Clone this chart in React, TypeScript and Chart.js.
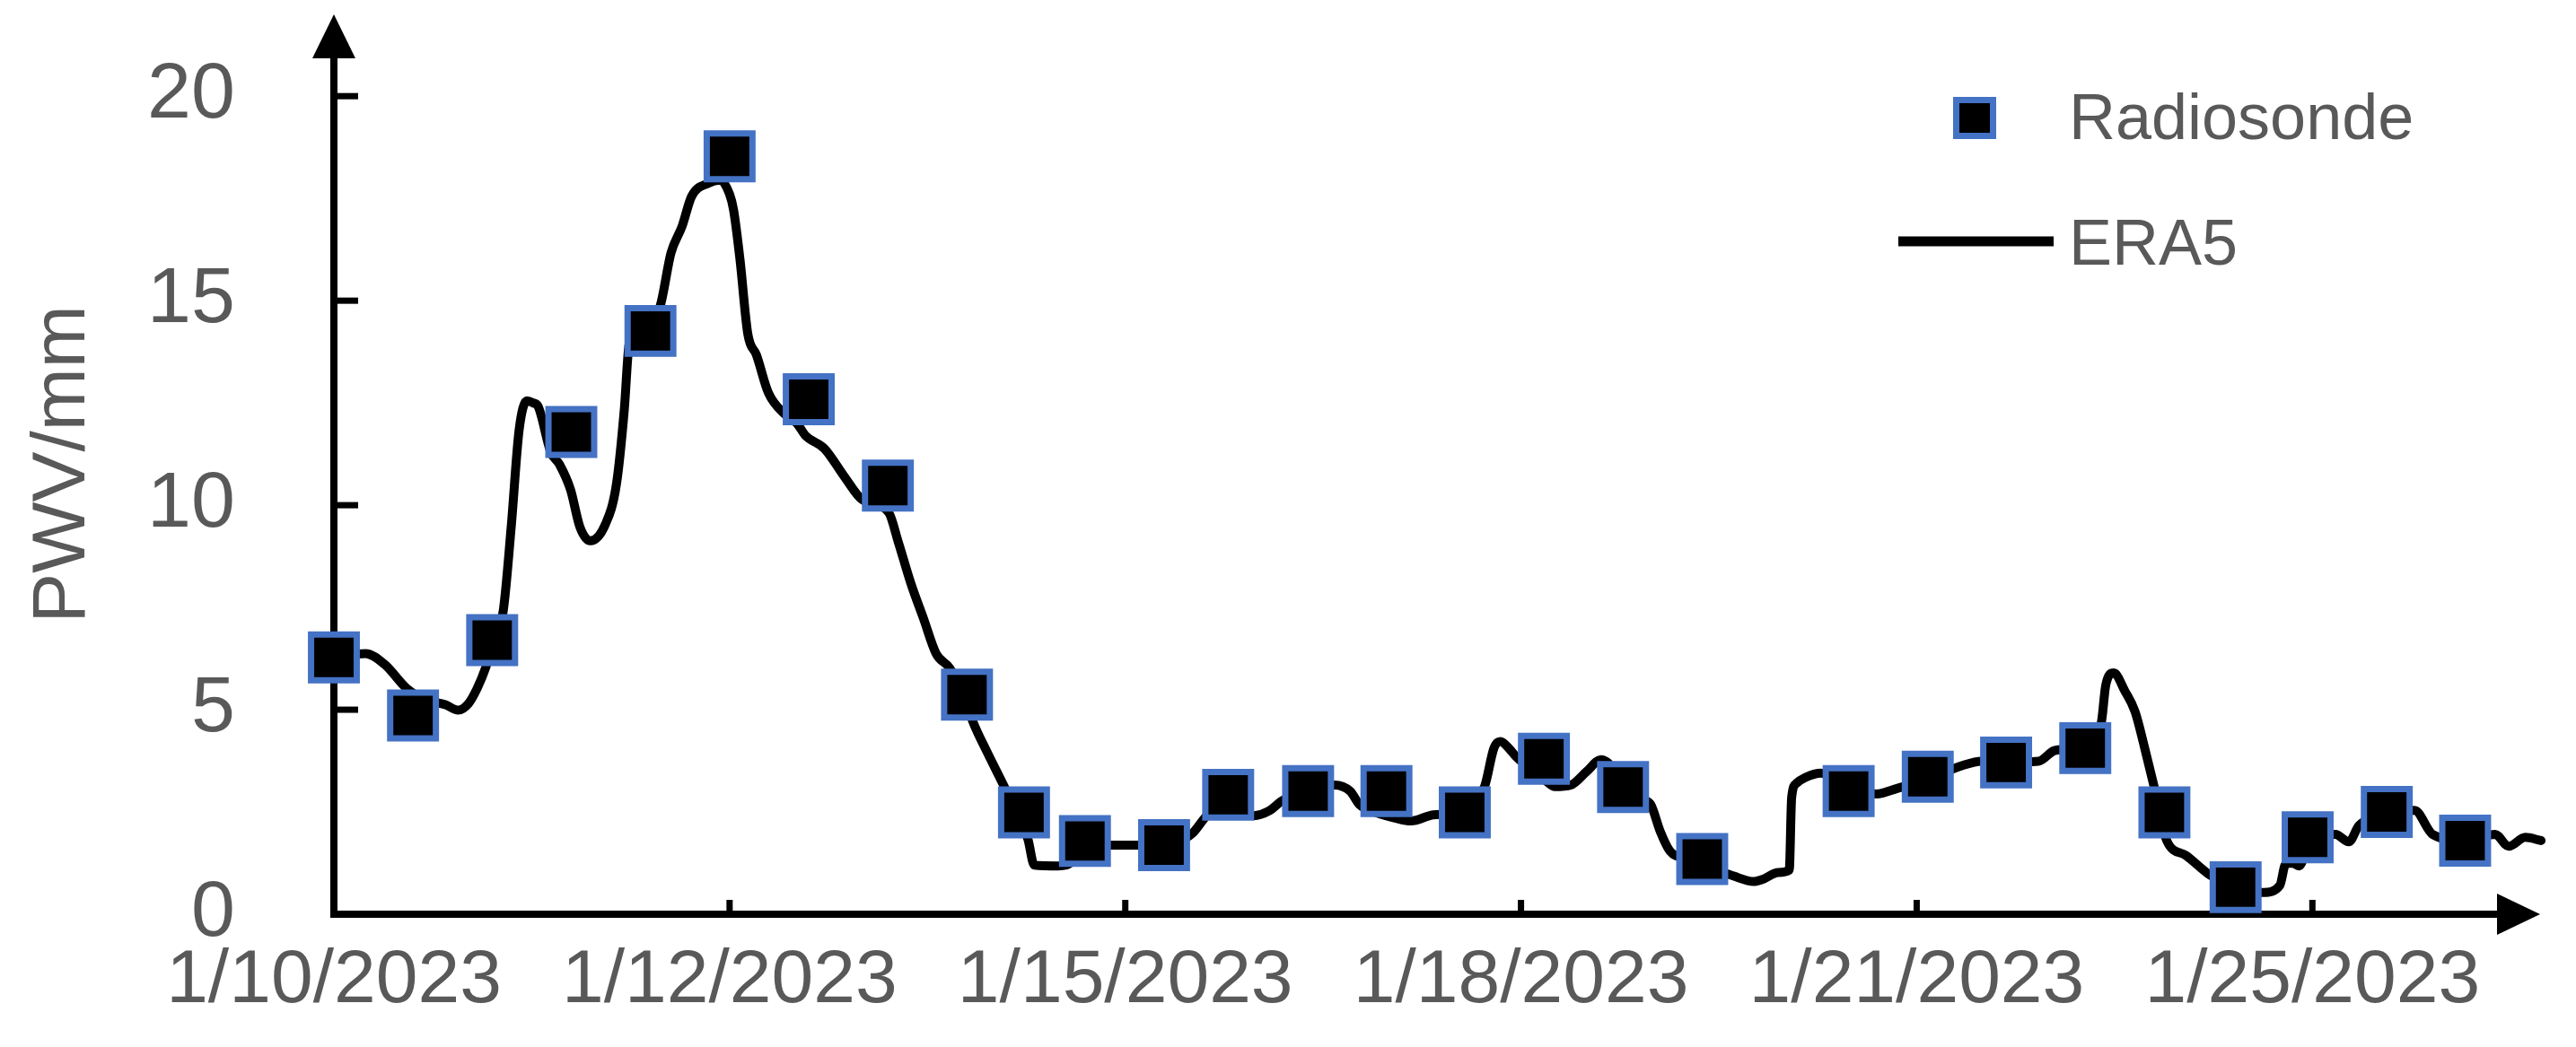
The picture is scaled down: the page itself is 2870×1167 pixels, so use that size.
import React, { useEffect, useRef } from 'react';
import { Chart, registerables } from 'chart.js';

Chart.register(...registerables);

// ---- Data (x is position along the category-like date axis, 1 unit = one radiosonde slot) ----
const xTickValues = [0, 5, 10, 15, 20, 25];
const xTickLabels = ['1/10/2023', '1/12/2023', '1/15/2023', '1/18/2023', '1/21/2023', '1/25/2023'];
const yTickValues = [0, 5, 10, 15, 20];

const radiosondeT = [
  0, 1, 2, 3, 4, 5, 6, 7, 8, 8.72, 9.49, 10.49, 11.3, 12.31, 13.3, 14.29, 15.29, 16.29, 17.29,
  19.14, 20.14, 21.13, 22.13, 23.13, 24.03, 24.94, 25.94, 26.93,
];
const radiosondePWV = [
  6.28, 4.86, 6.7, 11.79, 14.26, 18.53, 12.59, 10.48, 5.37, 2.49, 1.79, 1.69, 2.92, 3.01, 3.01, 2.49,
  3.8, 3.11, 1.35, 3.01, 3.36, 3.71, 4.06, 2.49, 0.66, 1.88, 2.5, 1.8,
];

const era5T = [
  0.0, 0.4, 0.64, 0.92, 1.15, 1.41, 1.57, 1.7, 1.81, 1.92, 2.05, 2.14, 2.24, 2.34, 2.44, 2.52, 2.58,
  2.74, 2.85, 2.99, 3.11, 3.24, 3.43, 3.57, 3.67, 3.73, 3.85, 4.12, 4.26, 4.4, 4.52, 4.73, 4.88, 5.0,
  5.05, 5.13, 5.23, 5.34, 5.49, 5.7, 5.85, 5.96, 6.2, 6.45, 6.68, 7.01, 7.13, 7.29, 7.45, 7.61, 7.78,
  7.95, 8.08, 8.26, 8.46, 8.62, 8.77, 8.85, 9.15, 9.25, 9.45, 9.65, 9.82, 10.16, 10.49, 10.75, 10.85,
  11.01, 11.15, 11.35, 11.62, 11.82, 11.97, 12.15, 12.4, 12.64, 12.84, 12.96, 13.15, 13.41, 13.61,
  13.89, 14.1, 14.29, 14.45, 14.54, 14.66, 14.74, 14.85, 14.94, 15.15, 15.29, 15.43, 15.63, 15.83,
  16.01, 16.1, 16.3, 16.55, 16.64, 16.76, 16.88, 17.1, 17.45, 17.69, 17.94, 18.05, 18.25, 18.39,
  18.42, 18.48, 18.59, 18.79, 19.14, 19.49, 19.76, 20.14, 20.57, 20.82, 21.13, 21.54, 21.74, 21.95,
  22.13, 22.33, 22.39, 22.49, 22.63, 22.76, 22.88, 23.0, 23.16, 23.4, 23.69, 23.9, 24.2, 24.38,
  24.59, 24.66, 24.75, 24.83, 24.94, 25.1, 25.29, 25.46, 25.59, 25.94, 26.29, 26.52, 26.93, 27.31,
  27.48, 27.69, 27.89,
];
const era5PWV = [
  6.3, 6.37, 6.11, 5.52, 5.25, 5.12, 4.99, 5.15, 5.52, 6.04, 6.9, 7.42, 9.46, 11.83, 12.55, 12.5, 12.42,
  11.3, 11.0, 10.38, 9.46, 9.13, 9.53, 10.51, 12.35, 13.93, 14.3, 14.85, 16.17, 16.82, 17.55, 17.87,
  17.95, 17.6, 17.22, 16.03, 14.19, 13.67, 12.75, 12.22, 12.0, 11.7, 11.38, 10.7, 10.13, 9.82, 9.11,
  8.09, 7.23, 6.37, 6.02, 5.4, 4.68, 3.94, 3.16, 2.5, 1.83, 1.2, 1.18, 1.2, 1.45, 1.65, 1.69, 1.69,
  1.72, 1.85, 1.98, 2.37, 2.65, 2.7, 2.41, 2.53, 2.76, 2.95, 3.1, 3.16, 3.01, 2.68, 2.5, 2.35, 2.28,
  2.43, 2.46, 2.6, 2.9, 3.12, 4.07, 4.22, 4.05, 3.85, 3.5, 3.3, 3.12, 3.16, 3.49, 3.78, 3.7, 3.2, 2.8,
  2.68, 2.02, 1.55, 1.35, 1.1, 0.93, 0.8, 0.85, 1.02, 1.08, 2.85, 3.2, 3.34, 3.45, 3.1, 2.94, 3.08,
  3.3, 3.63, 3.74, 3.72, 3.74, 4.0, 4.05, 4.2, 4.66, 5.61, 5.9, 5.46, 4.95, 4.07, 3.12, 1.8, 1.44,
  0.98, 0.75, 0.55, 0.53, 0.71, 1.22, 1.25, 1.18, 1.6, 1.9, 1.95, 1.77, 2.17, 2.45, 2.54, 1.95, 1.8,
  1.95, 1.66, 1.88, 1.8,
];

const seriesNames = ['Radiosonde', 'ERA5'];
const yAxisTitle = 'PWV/mm';

const FONT = '"Liberation Sans", Arial, sans-serif';
const LABEL_COLOR = '#595959';
const MARKER_BORDER = '#4472C4';

const axesPlugin = {
  id: 'axesArrows',
  beforeDatasetsDraw(chart: any) {
    const { ctx, chartArea, scales } = chart;
    const xs = scales.x;
    const ys = scales.y;
    const x0 = xs.getPixelForValue(0);
    const y0 = ys.getPixelForValue(0);
    ctx.save();
    ctx.strokeStyle = '#000';
    ctx.fillStyle = '#000';
    ctx.lineWidth = 8;
    // y axis line
    ctx.beginPath();
    ctx.moveTo(x0, y0 + 4);
    ctx.lineTo(x0, chartArea.top + 40);
    ctx.stroke();
    // y arrow
    ctx.beginPath();
    ctx.moveTo(x0, chartArea.top);
    ctx.lineTo(x0 - 24, chartArea.top + 49);
    ctx.lineTo(x0 + 24, chartArea.top + 49);
    ctx.closePath();
    ctx.fill();
    // x axis line
    const tipX = chartArea.right - 2;
    ctx.beginPath();
    ctx.moveTo(x0 - 4, y0);
    ctx.lineTo(tipX - 40, y0);
    ctx.stroke();
    // x arrow
    ctx.beginPath();
    ctx.moveTo(tipX, y0);
    ctx.lineTo(tipX - 48, y0 - 23);
    ctx.lineTo(tipX - 48, y0 + 23);
    ctx.closePath();
    ctx.fill();
    // ticks
    ctx.lineWidth = 7;
    yTickValues.forEach((v) => {
      if (v === 0) return;
      const y = ys.getPixelForValue(v);
      ctx.beginPath();
      ctx.moveTo(x0, y);
      ctx.lineTo(x0 + 27, y);
      ctx.stroke();
    });
    xTickValues.forEach((v) => {
      if (v === 0) return;
      const x = xs.getPixelForValue(v);
      ctx.beginPath();
      ctx.moveTo(x, y0);
      ctx.lineTo(x, y0 - 16);
      ctx.stroke();
    });
    ctx.restore();
  },
};

const legendPlugin = {
  id: 'customLegend',
  afterDraw(chart: any) {
    const { ctx } = chart;
    const ds = chart.data.datasets;
    ctx.save();
    // Radiosonde marker
    ctx.fillStyle = '#000';
    ctx.fillRect(2176, 108, 48, 47);
    ctx.strokeStyle = MARKER_BORDER;
    ctx.lineWidth = 7;
    ctx.strokeRect(2179.5, 111.5, 41, 40);
    ctx.font = `72px ${FONT}`;
    ctx.fillStyle = LABEL_COLOR;
    ctx.textBaseline = 'alphabetic';
    ctx.textAlign = 'left';
    ctx.fillText(ds[0].label, 2305, 155);
    // ERA5 line
    ctx.strokeStyle = '#000';
    ctx.lineWidth = 11;
    ctx.beginPath();
    ctx.moveTo(2115, 269);
    ctx.lineTo(2288, 269);
    ctx.stroke();
    ctx.fillStyle = LABEL_COLOR;
    ctx.fillText(ds[1].label, 2305, 295);
    ctx.restore();
  },
};

export default function App() {
  const canvasRef = useRef<HTMLCanvasElement | null>(null);

  useEffect(() => {
    const canvas = canvasRef.current;
    if (!canvas) return;
    const chart = new Chart(canvas, {
      type: 'scatter',
      data: {
        datasets: [
          {
            label: seriesNames[0],
            data: radiosondeT.map((t, i) => ({ x: t, y: radiosondePWV[i] })),
            showLine: false,
            pointStyle: 'rect',
            pointRadius: 36,
            pointHoverRadius: 36,
            pointBackgroundColor: '#000',
            pointBorderColor: MARKER_BORDER,
            pointBorderWidth: 7,
            order: 0,
            clip: false,
          } as any,
          {
            label: seriesNames[1],
            data: era5T.map((t, i) => ({ x: t, y: era5PWV[i] })),
            showLine: true,
            borderColor: '#000',
            backgroundColor: '#000',
            borderWidth: 10,
            pointRadius: 0,
            pointHoverRadius: 0,
            cubicInterpolationMode: 'monotone',
            borderJoinStyle: 'round',
            borderCapStyle: 'round',
            order: 1,
            clip: false,
          } as any,
        ],
      },
      options: {
        responsive: false,
        animation: false,
        events: [],
        devicePixelRatio: 1,
        layout: { autoPadding: false, padding: { top: 16, right: 38, bottom: 0, left: 0 } },
        plugins: {
          legend: { display: false },
          tooltip: { enabled: false },
        },
        scales: {
          x: {
            type: 'linear',
            min: 0,
            max: 27.9,
            grid: { display: false, drawTicks: false },
            border: { display: false },
            afterBuildTicks: (s: any) => {
              s.ticks = xTickValues.map((v) => ({ value: v }));
            },
            afterFit: (s: any) => {
              s.height = 148;
              s.paddingLeft = 0;
              s.paddingRight = 0;
            },
            ticks: {
              autoSkip: false,
              maxRotation: 0,
              padding: 24,
              color: LABEL_COLOR,
              font: { family: FONT, size: 84 },
              callback: (v: any) => {
                const i = xTickValues.indexOf(Number(v));
                return i >= 0 ? xTickLabels[i] : '';
              },
            },
          },
          y: {
            type: 'linear',
            min: 0,
            max: 22,
            grid: { display: false, drawTicks: false },
            border: { display: false },
            afterBuildTicks: (s: any) => {
              s.ticks = yTickValues.map((v) => ({ value: v }));
            },
            afterFit: (s: any) => {
              s.width = 372;
              s.paddingTop = 0;
              s.paddingBottom = 0;
            },
            title: {
              display: true,
              text: yAxisTitle,
              color: LABEL_COLOR,
              font: { family: FONT, size: 84 },
              padding: { top: 20, bottom: 0 },
            },
            ticks: {
              padding: 110,
              color: LABEL_COLOR,
              font: { family: FONT, size: 88 },
            },
          },
        },
      },
      plugins: [axesPlugin, legendPlugin],
    });
    return () => chart.destroy();
  }, []);

  return (
    <div style={{ position: 'fixed', left: 0, top: 0, width: 2870, height: 1167, background: '#fff' }}>
      <canvas ref={canvasRef} width={2870} height={1167} style={{ display: 'block' }} />
    </div>
  );
}
